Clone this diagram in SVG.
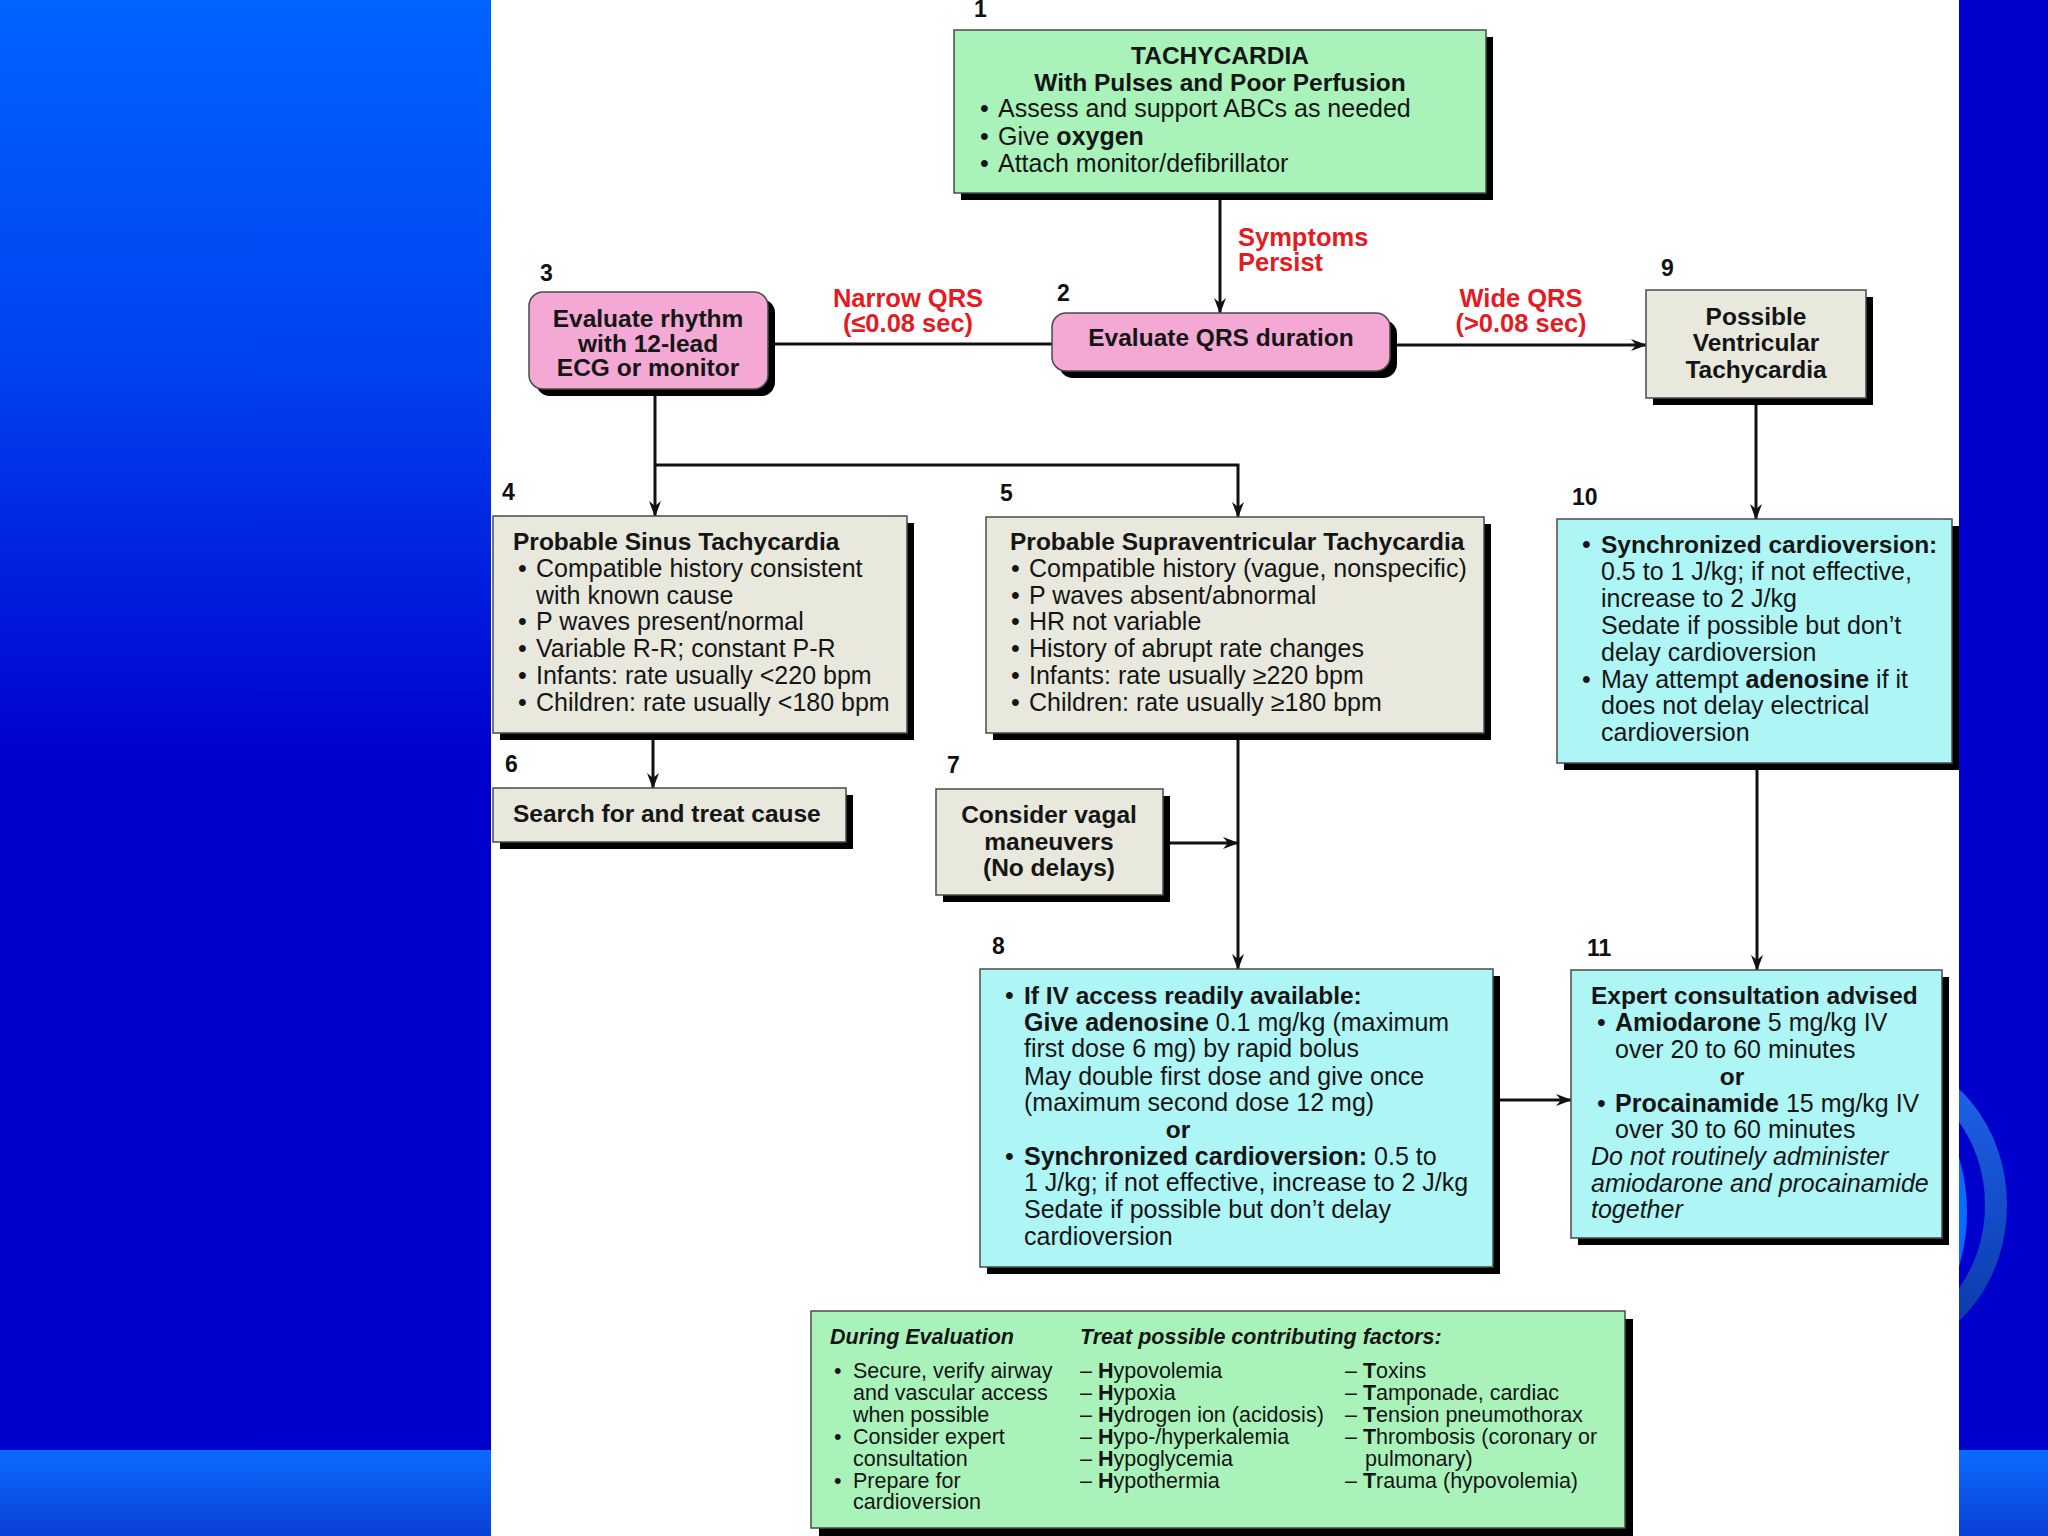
<svg xmlns="http://www.w3.org/2000/svg" width="2048" height="1536" viewBox="0 0 2048 1536">
<defs>
<style>
.t{font-family:"Liberation Sans",Arial,sans-serif;font-size:25px;fill:#151515}
.b{font-weight:bold}
.bb{font-weight:bold;font-size:24.5px}
.i{font-style:italic}
.m{text-anchor:middle}
.num{font-family:"Liberation Sans",Arial,sans-serif;font-weight:bold;font-size:23px;fill:#111}
.red{font-family:"Liberation Sans",Arial,sans-serif;font-weight:bold;font-size:25.5px;fill:#e41b23}
.sm{font-size:21.5px}
.box{stroke:#4a4a4a;stroke-width:1.5}
.sh{fill:#000}
.green{fill:#a9f3bb}
.pink{fill:#f3a9d4}
.beige{fill:#e8e8dd}
.cyan{fill:#aef5f5}
.conn{stroke:#111;stroke-width:3;fill:none}
</style>
<marker id="arr" viewBox="0 0 16 12" refX="15" refY="6" markerWidth="16" markerHeight="12" markerUnits="userSpaceOnUse" orient="auto">
<path d="M0,0 L16,6 L0,12 L5,6 z" fill="#111"/>
</marker>
<linearGradient id="lg" x1="0" y1="0" x2="0" y2="1">
<stop offset="0" stop-color="#0064ff"/>
<stop offset="0.5" stop-color="#0040ee"/>
<stop offset="1" stop-color="#0000cc"/>
</linearGradient>
<linearGradient id="bs" x1="0" y1="0" x2="0" y2="1">
<stop offset="0" stop-color="#0a6cff"/>
<stop offset="1" stop-color="#0a3fd6"/>
</linearGradient>
<linearGradient id="rg" x1="0" y1="0" x2="0" y2="1">
<stop offset="0" stop-color="#1e64ec"/>
<stop offset="1" stop-color="#0a38a6"/>
</linearGradient>
<clipPath id="rc"><rect x="1959" y="0" width="89" height="1450"/></clipPath>
</defs>

<g id="background">
<rect x="0" y="0" width="2048" height="1536" fill="#0000cc"/>
<rect x="0" y="0" width="491" height="760" fill="url(#lg)"/>
<rect x="0" y="1450" width="491" height="86" fill="url(#bs)"/>
<rect x="1959" y="1450" width="89" height="86" fill="url(#bs)"/>
<g clip-path="url(#rc)">
<ellipse cx="1880" cy="1205" rx="116" ry="137" fill="none" stroke="url(#rg)" stroke-width="22"/>
<ellipse cx="1880" cy="1212" rx="87" ry="130" fill="#0a6cff"/>
</g>
<rect x="491" y="0" width="1468" height="1536" fill="#ffffff"/>
</g>

<g id="connectors">
<path class="conn" d="M1220,193 V313" marker-end="url(#arr)"/>
<path class="conn" d="M768,344 H1052"/>
<path class="conn" d="M1390,345 H1646" marker-end="url(#arr)"/>
<path class="conn" d="M655,389 V516" marker-end="url(#arr)"/>
<path class="conn" d="M655,465 H1238 V517" marker-end="url(#arr)"/>
<path class="conn" d="M653,733 V788" marker-end="url(#arr)"/>
<path class="conn" d="M1238,733 V969" marker-end="url(#arr)"/>
<path class="conn" d="M1163,843 H1238" marker-end="url(#arr)"/>
<path class="conn" d="M1756,398 V519" marker-end="url(#arr)"/>
<path class="conn" d="M1757,763 V970" marker-end="url(#arr)"/>
<path class="conn" d="M1493,1100 H1571" marker-end="url(#arr)"/>
<text class="red" x="1238" y="246">Symptoms</text>
<text class="red" x="1238" y="271">Persist</text>
<text class="red m" x="908" y="307">Narrow QRS</text>
<text class="red m" x="908" y="332">(≤0.08 sec)</text>
<text class="red m" x="1521" y="307">Wide QRS</text>
<text class="red m" x="1521" y="332">(&gt;0.08 sec)</text>
</g>

<g id="n1">
<text class="num" x="974" y="17">1</text>
<rect class="sh" x="961" y="37" width="532" height="163"/>
<rect class="box green" x="954" y="30" width="532" height="163"/>
<text class="t bb m" x="1220" y="64">TACHYCARDIA</text>
<text class="t bb m" x="1220" y="91">With Pulses and Poor Perfusion</text>
<text class="t" x="980" y="117">•</text><text class="t" x="998" y="117">Assess and support ABCs as needed</text>
<text class="t" x="980" y="145">•</text><text class="t" x="998" y="145">Give <tspan class="b">oxygen</tspan></text>
<text class="t" x="980" y="172">•</text><text class="t" x="998" y="172">Attach monitor/defibrillator</text>
</g>

<g id="n2">
<text class="num" x="1057" y="301">2</text>
<rect class="sh" x="1059" y="320" width="338" height="58" rx="14"/>
<rect class="box pink" x="1052" y="313" width="338" height="58" rx="14"/>
<text class="t bb m" x="1221" y="346">Evaluate QRS duration</text>
</g>

<g id="n3">
<text class="num" x="540" y="281">3</text>
<rect class="sh" x="536" y="299" width="239" height="97" rx="14"/>
<rect class="box pink" x="529" y="292" width="239" height="97" rx="14"/>
<text class="t bb m" x="648" y="327">Evaluate rhythm</text>
<text class="t bb m" x="648" y="352">with 12-lead</text>
<text class="t bb m" x="648" y="376">ECG or monitor</text>
</g>

<g id="n9">
<text class="num" x="1661" y="276">9</text>
<rect class="sh" x="1653" y="297" width="220" height="108"/>
<rect class="box beige" x="1646" y="290" width="220" height="108"/>
<text class="t bb m" x="1756" y="325">Possible</text>
<text class="t bb m" x="1756" y="351">Ventricular</text>
<text class="t bb m" x="1756" y="378">Tachycardia</text>
</g>

<g id="n4">
<text class="num" x="502" y="500">4</text>
<rect class="sh" x="500" y="523" width="414" height="217"/>
<rect class="box beige" x="493" y="516" width="414" height="217"/>
<text class="t bb" x="513" y="550">Probable Sinus Tachycardia</text>
<text class="t" x="518" y="577">•</text><text class="t" x="536" y="577">Compatible history consistent</text>
<text class="t" x="536" y="604">with known cause</text>
<text class="t" x="518" y="630">•</text><text class="t" x="536" y="630">P waves present/normal</text>
<text class="t" x="518" y="657">•</text><text class="t" x="536" y="657">Variable R-R; constant P-R</text>
<text class="t" x="518" y="684">•</text><text class="t" x="536" y="684">Infants: rate usually &lt;220 bpm</text>
<text class="t" x="518" y="711">•</text><text class="t" x="536" y="711">Children: rate usually &lt;180 bpm</text>
</g>

<g id="n5">
<text class="num" x="1000" y="501">5</text>
<rect class="sh" x="993" y="524" width="498" height="216"/>
<rect class="box beige" x="986" y="517" width="498" height="216"/>
<text class="t bb" x="1010" y="550">Probable Supraventricular Tachycardia</text>
<text class="t" x="1011" y="577">•</text><text class="t" x="1029" y="577">Compatible history (vague, nonspecific)</text>
<text class="t" x="1011" y="604">•</text><text class="t" x="1029" y="604">P waves absent/abnormal</text>
<text class="t" x="1011" y="630">•</text><text class="t" x="1029" y="630">HR not variable</text>
<text class="t" x="1011" y="657">•</text><text class="t" x="1029" y="657">History of abrupt rate changes</text>
<text class="t" x="1011" y="684">•</text><text class="t" x="1029" y="684">Infants: rate usually ≥220 bpm</text>
<text class="t" x="1011" y="711">•</text><text class="t" x="1029" y="711">Children: rate usually ≥180 bpm</text>
</g>

<g id="n6">
<text class="num" x="505" y="772">6</text>
<rect class="sh" x="500" y="795" width="353" height="54"/>
<rect class="box beige" x="493" y="788" width="353" height="54"/>
<text class="t bb" x="513" y="822">Search for and treat cause</text>
</g>

<g id="n7">
<text class="num" x="947" y="773">7</text>
<rect class="sh" x="943" y="796" width="227" height="106"/>
<rect class="box beige" x="936" y="789" width="227" height="106"/>
<text class="t bb m" x="1049" y="823">Consider vagal</text>
<text class="t bb m" x="1049" y="850">maneuvers</text>
<text class="t bb m" x="1049" y="876">(No delays)</text>
</g>

<g id="n10">
<text class="num" x="1572" y="505">10</text>
<rect class="sh" x="1564" y="526" width="395" height="244"/>
<rect class="box cyan" x="1557" y="519" width="395" height="244"/>
<text class="t" x="1582" y="553">•</text><text class="t bb" x="1601" y="553">Synchronized cardioversion:</text>
<text class="t" x="1601" y="580">0.5 to 1 J/kg; if not effective,</text>
<text class="t" x="1601" y="607">increase to 2 J/kg</text>
<text class="t" x="1601" y="634">Sedate if possible but don’t</text>
<text class="t" x="1601" y="661">delay cardioversion</text>
<text class="t" x="1582" y="688">•</text><text class="t" x="1601" y="688">May attempt <tspan class="b">adenosine</tspan> if it</text>
<text class="t" x="1601" y="714">does not delay electrical</text>
<text class="t" x="1601" y="741">cardioversion</text>
</g>

<g id="n8">
<text class="num" x="992" y="954">8</text>
<rect class="sh" x="987" y="976" width="513" height="298"/>
<rect class="box cyan" x="980" y="969" width="513" height="298"/>
<text class="t" x="1005" y="1004">•</text><text class="t bb" x="1024" y="1004">If IV access readily available:</text>
<text class="t" x="1024" y="1031"><tspan class="b">Give adenosine</tspan> 0.1 mg/kg (maximum</text>
<text class="t" x="1024" y="1057">first dose 6 mg) by rapid bolus</text>
<text class="t" x="1024" y="1085">May double first dose and give once</text>
<text class="t" x="1024" y="1111">(maximum second dose 12 mg)</text>
<text class="t bb m" x="1178" y="1138">or</text>
<text class="t" x="1005" y="1165">•</text><text class="t" x="1024" y="1165"><tspan class="b">Synchronized cardioversion:</tspan> 0.5 to</text>
<text class="t" x="1024" y="1191">1 J/kg; if not effective, increase to 2 J/kg</text>
<text class="t" x="1024" y="1218">Sedate if possible but don’t delay</text>
<text class="t" x="1024" y="1245">cardioversion</text>
</g>

<g id="n11">
<text class="num" x="1587" y="956">11</text>
<rect class="sh" x="1578" y="977" width="371" height="268"/>
<rect class="box cyan" x="1571" y="970" width="371" height="268"/>
<text class="t bb" x="1591" y="1004">Expert consultation advised</text>
<text class="t" x="1597" y="1031">•</text><text class="t" x="1615" y="1031"><tspan class="b">Amiodarone</tspan> 5 mg/kg IV</text>
<text class="t" x="1615" y="1058">over 20 to 60 minutes</text>
<text class="t bb m" x="1732" y="1085">or</text>
<text class="t" x="1597" y="1112">•</text><text class="t" x="1615" y="1112"><tspan class="b">Procainamide</tspan> 15 mg/kg IV</text>
<text class="t" x="1615" y="1138">over 30 to 60 minutes</text>
<text class="t i" x="1591" y="1165">Do not routinely administer</text>
<text class="t i" x="1591" y="1192">amiodarone and procainamide</text>
<text class="t i" x="1591" y="1218">together</text>
</g>

<g id="n12">
<rect class="sh" x="819" y="1319" width="814" height="217"/>
<rect class="box green" x="811" y="1311" width="814" height="217"/>
<text class="t sm b i" x="830" y="1344">During Evaluation</text>
<text class="t sm b i" x="1080" y="1344">Treat possible contributing factors:</text>
<text class="t sm" x="834" y="1378">•</text><text class="t sm" x="853" y="1378">Secure, verify airway</text>
<text class="t sm" x="853" y="1400">and vascular access</text>
<text class="t sm" x="853" y="1422">when possible</text>
<text class="t sm" x="834" y="1444">•</text><text class="t sm" x="853" y="1444">Consider expert</text>
<text class="t sm" x="853" y="1466">consultation</text>
<text class="t sm" x="834" y="1488">•</text><text class="t sm" x="853" y="1488">Prepare for</text>
<text class="t sm" x="853" y="1509">cardioversion</text>
<text class="t sm" x="1080" y="1378">– <tspan class="b">H</tspan>ypovolemia</text>
<text class="t sm" x="1080" y="1400">– <tspan class="b">H</tspan>ypoxia</text>
<text class="t sm" x="1080" y="1422">– <tspan class="b">H</tspan>ydrogen ion (acidosis)</text>
<text class="t sm" x="1080" y="1444">– <tspan class="b">H</tspan>ypo-/hyperkalemia</text>
<text class="t sm" x="1080" y="1466">– <tspan class="b">H</tspan>ypoglycemia</text>
<text class="t sm" x="1080" y="1488">– <tspan class="b">H</tspan>ypothermia</text>
<text class="t sm" x="1345" y="1378">– <tspan class="b">T</tspan>oxins</text>
<text class="t sm" x="1345" y="1400">– <tspan class="b">T</tspan>amponade, cardiac</text>
<text class="t sm" x="1345" y="1422">– <tspan class="b">T</tspan>ension pneumothorax</text>
<text class="t sm" x="1345" y="1444">– <tspan class="b">T</tspan>hrombosis (coronary or</text>
<text class="t sm" x="1365" y="1466">pulmonary)</text>
<text class="t sm" x="1345" y="1488">– <tspan class="b">T</tspan>rauma (hypovolemia)</text>
</g>
</svg>
